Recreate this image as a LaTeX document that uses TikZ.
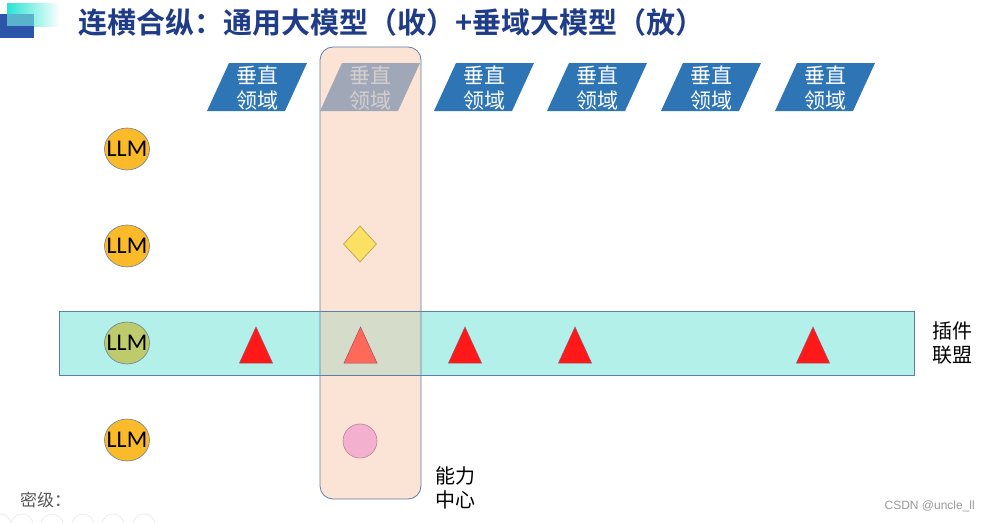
\documentclass[tikz,border=0pt]{standalone}
\usepackage{fontspec}
\setmainfont{Liberation Sans}
\newfontfamily\cjk{Noto Sans CJK SC}
\newfontfamily\cjkbold{Noto Sans CJK SC Bold}
\newfontfamily\calib{Carlito}
\usetikzlibrary{shapes.geometric}
\definecolor{titleblue}{RGB}{31,60,136}
\definecolor{vblue}{RGB}{46,117,182}
\definecolor{vgray}{RGB}{160,168,184}
\definecolor{vgraytext}{RGB}{212,206,206}
\definecolor{edgeblue}{RGB}{95,128,165}
\definecolor{bandcyan}{RGB}{180,240,234}
\definecolor{colpeach}{RGB}{251,228,214}
\definecolor{interfill}{RGB}{214,220,202}
\definecolor{llmorange}{RGB}{251,186,41}
\definecolor{llmolive}{RGB}{190,203,108}
\definecolor{trired}{RGB}{255,25,25}
\definecolor{trisalmon}{RGB}{255,105,90}
\definecolor{dyellow}{RGB}{250,225,100}
\definecolor{cpink}{RGB}{244,176,207}
\definecolor{logocyan}{RGB}{40,228,210}
\definecolor{logoblue}{RGB}{43,85,168}
\definecolor{logomix}{RGB}{90,178,205}
\tikzset{
  llm/.style={ellipse, draw=edgeblue!70!gray, line width=0.6pt, fill=llmorange,
    minimum width=45pt, minimum height=42pt, inner sep=0pt},
  llmtext/.style={font=\calib\fontsize{24}{24}\selectfont, text=black, inner sep=0pt},
  vtext/.style={font=\cjk\fontsize{21}{25}\selectfont, align=center, text=white, inner sep=0pt},
  lbl/.style={font=\cjk\fontsize{20}{24}\selectfont, align=left, text=black, inner sep=0pt},
  redtri/.style={fill=trired, draw=edgeblue!60!red, line width=0.5pt},
}
\begin{document}
\begin{tikzpicture}[x=1pt,y=-1pt]
\useasboundingbox (0,0) rectangle (990,522);
\fill[white] (0,0) rectangle (990,522);
% logo
\shade[left color=logocyan, right color=white] (7,3) rectangle (60,26);
\fill[logoblue] (0,14) rectangle (34,38);
\fill[logomix] (7,14) rectangle (34,26);
% title
\node[anchor=west, inner sep=0pt, text=titleblue, font=\cjkbold\fontsize{29}{29}\selectfont] (title) at (78,22) {连横合纵：通用大模型（收）+垂域大模型（放）};
% band and column fills
\fill[bandcyan] (59,311) rectangle (914,375);
\fill[colpeach, rounded corners=13pt] (320,47) rectangle (421,499);
\fill[interfill] (320,311) rectangle (421,375);
\draw[edgeblue, line width=0.8pt] (59,311) rectangle (914,375);
\draw[edgeblue, line width=0.8pt, rounded corners=13pt] (320,47) rectangle (421,499);
% vertical domain parallelograms
\foreach \cx/\nm in {257/v1,484/v3,597/v4,711/v5,825/v6}{
  \fill[vblue] (\cx-28,63) -- (\cx+50,63) -- (\cx+28,111) -- (\cx-50,111) -- cycle;
  \node[vtext] (\nm) at (\cx,88) {垂直\\领域};
}
\fill[vgray] (370-28,63) -- (370+50,63) -- (370+28,111) -- (370-50,111) -- cycle;
\node[vtext, text=vgraytext] (v2) at (370,88) {垂直\\领域};
% LLM circles
\foreach \ly/\nm in {149/l1,246/l2,440/l4}{
  \node[llm] (\nm) at (127,\ly) {};
  \node[llmtext] at (\nm) {LLM};
}
\node[llm, fill=llmolive] (l3) at (127,343) {};
\node[llmtext] at (l3) {LLM};
% triangles
\foreach \tx in {256,465,575,813}{
  \filldraw[redtri] (\tx,327) -- (\tx+16.5,363) -- (\tx-16.5,363) -- cycle;
}
\filldraw[redtri, fill=trisalmon] (360.5,327) -- (377,363) -- (344,363) -- cycle;
% diamond and circle
\node[diamond, fill=dyellow, draw=black!30!dyellow, line width=0.6pt, minimum width=33pt, minimum height=36pt, inner sep=0pt] (dia) at (360,244) {};
\node[circle, fill=cpink, draw=black!25!cpink, line width=0.6pt, minimum size=34pt, inner sep=0pt] (pk) at (360,441) {};
% labels
\node[lbl, anchor=west] (plug) at (932,343) {插件\\联盟};
\node[lbl, anchor=west] (ability) at (435,488) {能力\\中心};
\node[anchor=west, inner sep=0pt, text=black!65, font=\cjk\fontsize{17}{17}\selectfont] (mj) at (20,500) {密级：};
\node[anchor=east, inner sep=0pt, text=black!40, font=\fontsize{12}{12}\selectfont] (csdn) at (975,506) {CSDN @uncle\_ll};
% faint toolbar circles
\begin{scope}
\clip (0,0) rectangle (990,522);
\foreach \ix in {0,22,52,83,113,144}{
  \draw[black!9, line width=0.6pt] (\ix,525) circle (11);
}
\end{scope}
\end{tikzpicture}
\end{document}
